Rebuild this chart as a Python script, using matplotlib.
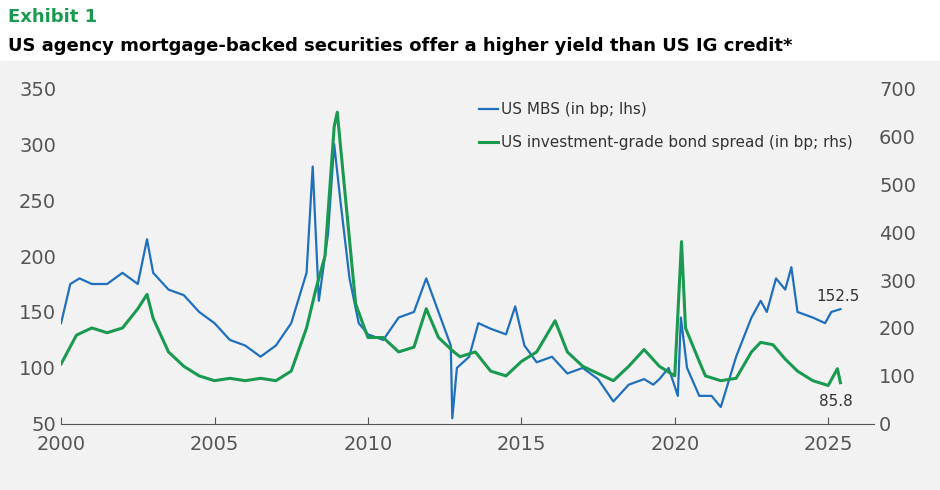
import matplotlib.pyplot as plt

# US MBS spread (bp, left axis)
mbs_t = [2000.0, 2000.3, 2000.6, 2001.0, 2001.5, 2002.0, 2002.5, 2002.8, 2003.0, 2003.5, 2004.0,
         2004.5, 2005.0, 2005.5, 2006.0, 2006.5, 2007.0, 2007.5, 2008.0, 2008.2, 2008.4, 2008.7,
         2008.9, 2009.1, 2009.4, 2009.7, 2010.0, 2010.5, 2011.0, 2011.5, 2011.9, 2012.3, 2012.7,
         2012.75, 2012.9, 2013.3, 2013.6, 2014.0, 2014.5, 2014.8, 2015.1, 2015.5, 2016.0, 2016.5,
         2017.0, 2017.5, 2018.0, 2018.5, 2019.0, 2019.3, 2019.5, 2019.8, 2020.1, 2020.2, 2020.4,
         2020.8, 2021.2, 2021.5, 2022.0, 2022.5, 2022.8, 2023.0, 2023.3, 2023.6, 2023.8, 2024.0,
         2024.5, 2024.9, 2025.1, 2025.4]
mbs_v = [140, 175, 180, 175, 175, 185, 175, 215, 185, 170, 165,
         150, 140, 125, 120, 110, 120, 140, 185, 280, 160, 220,
         300, 250, 180, 140, 130, 125, 145, 150, 180, 150, 120,
         55, 100, 110, 140, 135, 130, 155, 120, 105, 110, 95,
         100, 90, 70, 85, 90, 85, 90, 100, 75, 145, 100,
         75, 75, 65, 110, 145, 160, 150, 180, 170, 190, 150,
         145, 140, 150, 152.5]

# US IG bond spread (bp, right axis)
ig_t = [2000.0, 2000.5, 2001.0, 2001.5, 2002.0, 2002.5, 2002.8, 2003.0, 2003.5, 2004.0, 2004.5,
        2005.0, 2005.5, 2006.0, 2006.5, 2007.0, 2007.5, 2008.0, 2008.3, 2008.6, 2008.9, 2009.0,
        2009.3, 2009.6, 2010.0, 2010.5, 2011.0, 2011.5, 2011.9, 2012.3, 2012.8, 2013.0, 2013.5,
        2014.0, 2014.5, 2015.0, 2015.5, 2016.1, 2016.5, 2017.0, 2017.5, 2018.0, 2018.5, 2019.0,
        2019.5, 2020.0, 2020.22, 2020.35, 2020.8, 2021.0, 2021.5, 2022.0, 2022.5, 2022.8, 2023.2,
        2023.6, 2024.0, 2024.5, 2025.0, 2025.3, 2025.4]
ig_v = [125, 185, 200, 190, 200, 240, 270, 220, 150, 120, 100,
        90, 95, 90, 95, 90, 110, 200, 280, 350, 620, 650,
        450, 250, 180, 180, 150, 160, 240, 180, 150, 140, 150,
        110, 100, 130, 150, 215, 150, 120, 105, 90, 120, 155,
        120, 100, 380, 200, 130, 100, 90, 95, 150, 170, 165,
        135, 110, 90, 80, 115, 85.8]

blue = '#1f6fbf'
green = '#1a9a50'
bg = '#f2f2f2'

fig = plt.figure(figsize=(9.4, 4.9), dpi=100)
fig.text(0.008, 0.955, 'Exhibit 1', color=green, fontsize=13, fontweight='bold')
fig.text(0.008, 0.895, 'US agency mortgage-backed securities offer a higher yield than US IG credit*',
         color='black', fontsize=13, fontweight='bold')
fig.patches.append(plt.Rectangle((0, 0), 1, 0.875, transform=fig.transFigure, color=bg, zorder=-1))

ax = fig.add_axes([0.065, 0.135, 0.865, 0.685])
ax.set_facecolor(bg)
ax2 = ax.twinx()

ax.plot(mbs_t, mbs_v, color=blue, lw=1.6, label='US MBS (in bp; lhs)')
ax2.plot(ig_t, ig_v, color=green, lw=2.2, label='US investment-grade bond spread (in bp; rhs)')

ax.set_xlim(2000, 2026.5)
ax.set_ylim(50, 350)
ax2.set_ylim(0, 700)
ax.set_xticks([2000, 2005, 2010, 2015, 2020, 2025])
for a in (ax, ax2):
    for s in a.spines.values():
        s.set_visible(False)
    a.tick_params(labelsize=14, colors='#555555', length=0)
ax.spines['bottom'].set_visible(True)
ax.spines['bottom'].set_color('#555555')
ax.tick_params(axis='x', length=5, direction='in', pad=8)

ax.text(2024.6, 160, '152.5', fontsize=11, color='#333333')
ax2.text(2024.7, 38, '85.8', fontsize=11, color='#333333')

h1, l1 = ax.get_legend_handles_labels()
h2, l2 = ax2.get_legend_handles_labels()
ax.legend(h1 + h2, l1 + l2, loc='upper right', bbox_to_anchor=(0.99, 1.0), frameon=False,
          fontsize=11, labelspacing=1.2, handlelength=1.2, handletextpad=0.2, labelcolor='#333333')

fig.savefig('out.png', facecolor='white')
